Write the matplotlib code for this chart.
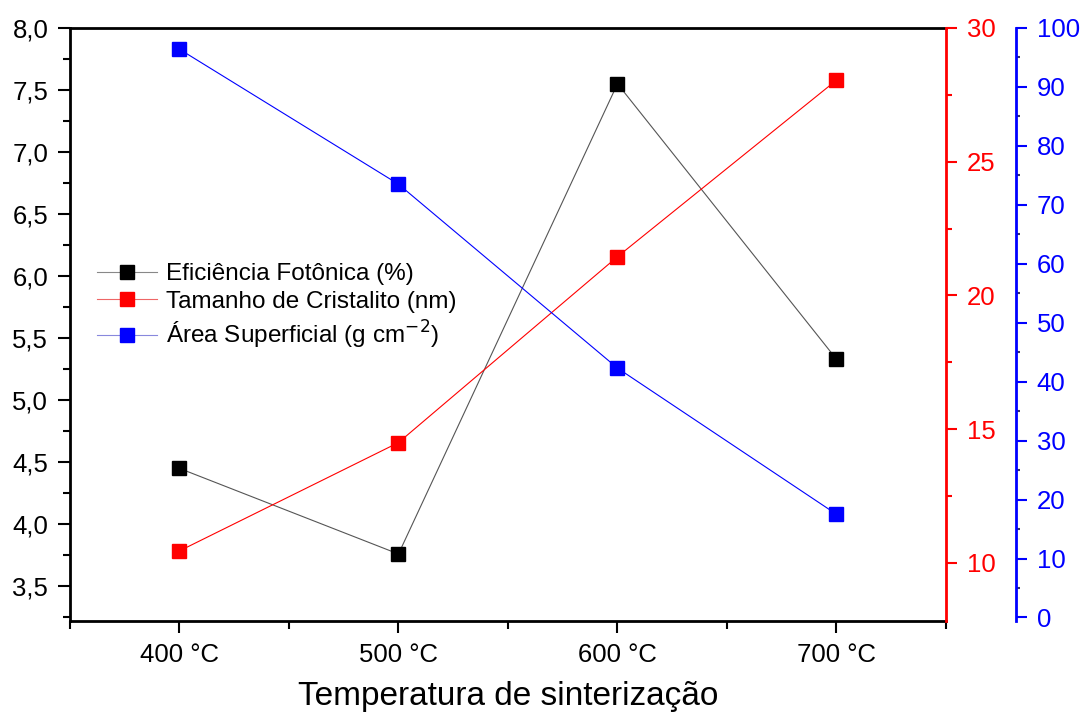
import matplotlib
matplotlib.use("Agg")
import matplotlib.pyplot as plt
from matplotlib.ticker import MultipleLocator, FuncFormatter

plt.rcParams['font.family'] = ['Liberation Sans', 'DejaVu Sans']

categories = ["400 °C", "500 °C", "600 °C", "700 °C"]
eficiencia = [4.45, 3.76, 7.55, 5.33]
cristalito = [10.45, 14.5, 21.45, 28.05]
area = [96.4, 73.5, 42.3, 17.5]
xlabel = "Temperatura de sinterização"
labels = ["Eficiência Fotônica (%)", "Tamanho de Cristalito (nm)", "Área Superficial (g cm$^{-2}$)"]

fig = plt.figure(figsize=(10.83, 7.16), dpi=100)
ax = fig.add_axes([0.0646, 0.1327, 0.8089, 0.8282])
ax2 = ax.twinx()
ax3 = ax.twinx()

x = list(range(len(categories)))
ms = 10
l1, = ax.plot(x, eficiencia, color='#555555', lw=0.8, marker='s', ms=ms, mfc='black', mec='black', label=labels[0])
l2, = ax2.plot(x, cristalito, color='red', lw=0.8, marker='s', ms=ms, mfc='red', mec='red', label=labels[1])
l3, = ax3.plot(x, area, color='blue', lw=0.8, marker='s', ms=ms, mfc='blue', mec='blue', label=labels[2])

ax.set_xlim(-0.5, 3.5)
ax.set_ylim(3.22, 8.0)
ax2.set_ylim(7.83, 30)
ax3.set_ylim(-0.6, 100)

ax.set_xticks(x)
ax.set_xticklabels(categories)
ax.xaxis.set_minor_locator(MultipleLocator(0.5))
ax.yaxis.set_major_locator(MultipleLocator(0.5))
ax.yaxis.set_minor_locator(MultipleLocator(0.25))
ax.yaxis.set_major_formatter(FuncFormatter(lambda v, p: f"{v:.1f}".replace('.', ',')))
ax.tick_params(axis='y', which='major', length=8.6, width=1.5, labelsize=18.5, pad=7)
ax.tick_params(axis='y', which='minor', length=5, width=1.5)
ax.tick_params(axis='x', which='major', length=8.6, width=1.5, labelsize=18.5, pad=7)
ax.tick_params(axis='x', which='minor', length=6, width=1.5)
ax.set_xlabel(xlabel, fontsize=24, labelpad=10)

for s in ['left', 'bottom', 'top']:
    ax.spines[s].set_linewidth(2)
ax.spines['right'].set_visible(False)

# red axis
ax2.spines['right'].set_color('red')
ax2.spines['right'].set_linewidth(2)
for s in ['left', 'bottom', 'top']:
    ax2.spines[s].set_visible(False)
ax2.yaxis.set_major_locator(MultipleLocator(5))
ax2.yaxis.set_minor_locator(MultipleLocator(2.5))
ax2.tick_params(axis='y', which='major', colors='red', length=8, width=1.5, labelsize=18.5, pad=7)
ax2.tick_params(axis='y', which='minor', colors='red', length=4.3, width=1.5)

# blue axis
ax3.spines['right'].set_position(('outward', 50.4))
ax3.spines['right'].set_color('blue')
ax3.spines['right'].set_linewidth(2)
for s in ['left', 'bottom', 'top']:
    ax3.spines[s].set_visible(False)
ax3.yaxis.set_major_locator(MultipleLocator(10))
ax3.yaxis.set_minor_locator(MultipleLocator(5))
ax3.tick_params(axis='y', which='major', colors='blue', length=8, width=1.5, labelsize=18.5, pad=7)
ax3.tick_params(axis='y', which='minor', colors='#333366', length=3, width=1.5)

leg = ax.legend([l1, l2, l3], labels, loc='upper left', bbox_to_anchor=(0.02, 0.62),
                frameon=False, fontsize=17.5, handlelength=2.45, handletextpad=0.4,
                labelspacing=0.24, borderaxespad=0)
for h, lc, mc in zip(leg.legend_handles, ['#888888', '#ee6666', '#8888dd'], ['black', 'red', 'blue']):
    h.set_color(lc)
    h.set_markerfacecolor(mc)
    h.set_markeredgecolor(mc)

fig.savefig("out.png", dpi=100)
